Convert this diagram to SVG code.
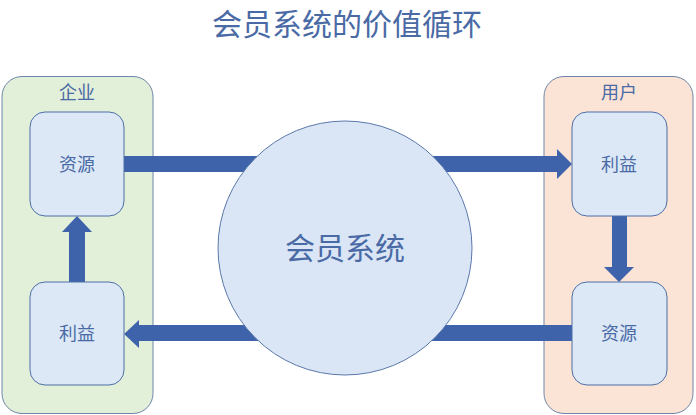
<svg xmlns="http://www.w3.org/2000/svg" width="696" height="415" viewBox="0 0 696 415">
<style>
.t{font-family:"Noto Sans CJK SC","Noto Sans",sans-serif;fill:#4a6aa6;text-anchor:middle}
.s{font-size:18px}
.box{fill:#dce8f6;stroke:#4d6fa6;stroke-width:1}
.arr{fill:#3f63aa}
</style>
<rect width="696" height="415" fill="#ffffff"/>
<text class="t" x="347" y="35" font-size="30">会员系统的价值循环</text>
<g id="enterprise">
<rect x="2" y="76.5" width="151" height="337" rx="20" fill="#e2efd9" stroke="#6f86a8" stroke-width="1"/>
<text class="t s" x="77" y="99">企业</text>
</g>
<g id="user">
<rect x="544" y="76.5" width="149" height="337" rx="20" fill="#fbe4d5" stroke="#6f86a8" stroke-width="1"/>
<text class="t s" x="619" y="99">用户</text>
</g>
<g id="connectors">
<polygon class="arr" points="124,156 557,156 557,149 572,164 557,179 557,172 124,172"/>
<polygon class="arr" points="573,325 139,325 139,320 124,334 139,348 139,341 573,341"/>
<polygon class="arr" points="69,282 69,232 62,232 77,216 92,232 85,232 85,282"/>
<polygon class="arr" points="612,216 627,216 627,267 634,267 619,282 604,267 612,267"/>
</g>
<g id="system">
<circle cx="345" cy="248" r="127" fill="#dae6f5" stroke="#5a78aa" stroke-width="1"/>
<text class="t" x="345" y="259" font-size="30">会员系统</text>
</g>
<g id="e-resource">
<rect class="box" x="30" y="112" width="94" height="104" rx="15"/>
<text class="t s" x="77" y="170.5">资源</text>
</g>
<g id="e-benefit">
<rect class="box" x="30" y="282" width="94" height="103" rx="15"/>
<text class="t s" x="77" y="340">利益</text>
</g>
<g id="u-benefit">
<rect class="box" x="572" y="112" width="95" height="104" rx="15"/>
<text class="t s" x="619" y="170.5">利益</text>
</g>
<g id="u-resource">
<rect class="box" x="572" y="282" width="95" height="103" rx="15"/>
<text class="t s" x="619" y="340">资源</text>
</g>
</svg>
